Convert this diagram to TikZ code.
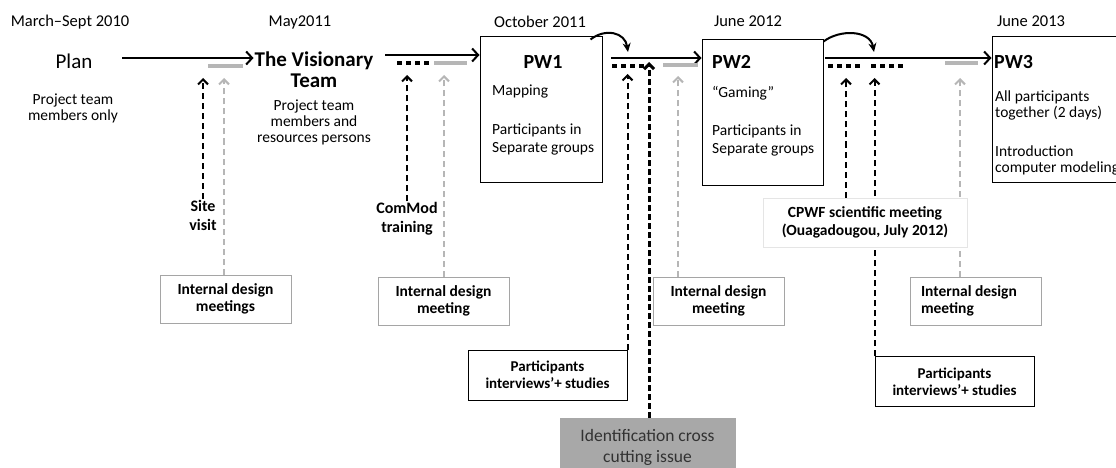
\documentclass[tikz,border=0pt]{standalone}
\usepackage{fontspec}
\setmainfont{Carlito}
\usetikzlibrary{arrows.meta,calc}

\definecolor{linegray}{RGB}{182,182,182}
\definecolor{boxgray}{RGB}{165,165,165}
\definecolor{fillgray}{RGB}{168,168,168}
\definecolor{textgray}{RGB}{50,50,50}

\begin{document}
\begin{tikzpicture}[x=1pt, y=-1pt,
    datelbl/.style={font=\fontsize{16.5}{18}\selectfont},
    bigtxt/.style={font=\fontsize{21}{21}\selectfont, align=center, inner sep=1pt},
    smalltxt/.style={font=\fontsize{15.5}{16}\selectfont, align=center},
    pwbox/.style={draw, line width=1pt, minimum width=#1, minimum height=145pt, inner sep=0pt},
    pwtitle/.style={font=\bfseries\fontsize{20}{20}\selectfont, inner sep=0pt},
    pwtxt/.style={font=\fontsize{15.5}{18}\selectfont, align=left, anchor=west, inner sep=0pt},
    actlbl/.style={font=\bfseries\fontsize{16}{19}\selectfont, align=center, inner sep=1pt},
    idmbox/.style={draw=boxgray, line width=1pt, fill=white, font=\bfseries\fontsize{15.5}{17}\selectfont,
        align=center, minimum width=131pt, minimum height=48pt, inner sep=0pt},
    partbox/.style={draw, line width=1pt, fill=white, font=\bfseries\fontsize{15}{17}\selectfont,
        align=center, minimum width=159pt, minimum height=50pt, inner sep=0pt},
    cpwfbox/.style={draw=black!10, line width=1pt, fill=white, font=\bfseries\fontsize{15.5}{18}\selectfont,
        align=center, minimum width=204pt, minimum height=49pt, inner sep=0pt},
    identbox/.style={draw=fillgray, fill=fillgray, text=textgray, font=\fontsize{17.5}{21}\selectfont,
        align=center, minimum width=175pt, minimum height=58pt, inner sep=0pt},
    timeline/.style={line width=2pt, -{Straight Barb[length=6pt, width=13pt]}},
    curvearr/.style={line width=2pt, -{Stealth[length=9pt, width=8pt]}},
    blkdash/.style={line width=2pt, dash pattern=on 6pt off 4pt, -{Straight Barb[length=5pt, width=10pt]}},
    grydash/.style={blkdash, draw=linegray},
    thickdash/.style={line width=3pt, dash pattern=on 6pt off 3pt, -{Straight Barb[length=5pt, width=10pt]}},
    dotrow/.style={line width=4pt, dash pattern=on 5pt off 4pt},
    graybar/.style={line width=4.5pt, draw=linegray}]

    \path[use as bounding box, clip] (0,0) rectangle (1116,468);

    % Dates
    \node[datelbl] (d1) at (70,22) {March--Sept 2010};
    \node[datelbl] (d2) at (300,22) {May2011};
    \node[datelbl] (d3) at (540,22) {October 2011};
    \node[datelbl] (d4) at (748,21) {June 2012};
    \node[datelbl] (d5) at (1031,21) {June 2013};

    % Stages
    \node[bigtxt] (plan) at (74,61) {Plan};
    \node[smalltxt] (planwho) at (73,108) {Project team\\members only};
    \node[bigtxt, font=\bfseries\fontsize{21}{21}\selectfont] (vis) at (314,70) {The Visionary\\Team};
    \node[smalltxt] (viswho) at (314,122) {Project team\\members and\\resources persons};

    % Participatory workshops
    \node[pwbox=122pt] (pw1) at (541,109.5) {};
    \node[pwtitle] (pw1t) at (543,62) {PW1};
    \node[pwtxt] (pw1a) at (492,92) {Mapping};
    \node[pwtxt] (pw1b) at (492,139) {Participants in\\Separate groups};

    \node[pwbox=121pt] (pw2) at (762.5,112.5) {};
    \node[pwtitle, anchor=west] (pw2t) at (712,62) {PW2};
    \node[pwtxt] (pw2a) at (712,93) {``Gaming''};
    \node[pwtxt] (pw2b) at (712,140) {Participants in\\Separate groups};

    \node[pwbox=140pt] (pw3) at (1062,109.5) {};
    \node[pwtitle, anchor=west] (pw3t) at (994,62) {PW3};
    \node[pwtxt, font=\fontsize{15.5}{16}\selectfont] (pw3a) at (995,105) {All participants\\together (2 days)};
    \node[pwtxt, font=\fontsize{15.5}{16}\selectfont] (pw3b) at (995,160) {Introduction\\computer modeling};

    % Timeline
    \coordinate (s1) at (122,58);
    \coordinate (s2) at (385,55);
    \coordinate (s3) at (611,58);
    \coordinate (s4) at (825,58);
    \draw[timeline] (s1) -- (s1 -| vis.west);
    \draw[timeline] (s2) -- (s2 -| pw1.west);
    \draw[timeline] (s3) -- (s3 -| pw2.west);
    \draw[timeline] (s4) -- (s4 -| pw3.west);

    \coordinate (e1) at (628,52);
    \coordinate (e2) at (874,52);
    \draw[curvearr] ($(pw1.north east)+(-12,3)$) .. controls (605,28) and (625,32) .. (e1);
    \draw[curvearr] ($(pw2.north east)+(0,2)$) .. controls (840,29) and (870,30) .. (e2);

    % Periods between stages
    \draw[graybar] (208,66) -- (243,66);
    \draw[graybar] (434,63) -- (467,63);
    \draw[graybar] (663,65) -- (698,65);
    \draw[graybar] (945,63) -- (978,63);
    \draw[dotrow] (397,63) -- (430,63);
    \draw[dotrow] (612,66) -- (645,66);
    \draw[dotrow] (828,66) -- (861,66);
    \draw[dotrow] (871,66) -- (904,66);

    % Activities
    \coordinate (t1) at (203,78);
    \coordinate (g1) at (224,78);
    \coordinate (t2) at (407,75);
    \coordinate (g2) at (444,75);
    \coordinate (t3) at (627,74);
    \coordinate (t4) at (649,62);
    \coordinate (g3) at (678,76);
    \coordinate (t5) at (846,78);
    \coordinate (t6) at (875,78);
    \coordinate (g4) at (960,78);

    \node[actlbl] (site) at (203,215) {Site\\visit};
    \node[actlbl] (commod) at (407,219) {ComMod\\training};
    \draw[blkdash] (site.north) -- (site.north |- t1);
    \draw[blkdash] (commod.north) -- (commod.north |- t2);

    \node[idmbox] (idm1) at (225.5,299) {Internal design\\meetings};
    \node[idmbox] (idm2) at (443.5,301) {Internal design\\meeting};
    \node[idmbox] (idm3) at (718.5,301) {Internal design\\meeting};
    \node[idmbox, align=flush left, text width=109pt, inner xsep=11pt] (idm4) at (975.5,301) {Internal design\\meeting};
    \draw[grydash] (idm1.north -| g1) -- (g1);
    \draw[grydash] (idm2.north -| g2) -- (g2);
    \draw[grydash] (idm3.north -| g3) -- (g3);
    \draw[grydash] (idm4.north -| g4) -- (g4);

    \node[partbox] (part1) at (547.5,375) {Participants\\interviews'+ studies};
    \node[partbox] (part2) at (954.5,381.5) {Participants\\interviews'+ studies};
    \node[identbox] (ident) at (647.5,447) {Identification cross\\cutting issue};
    \draw[blkdash] (part1.north east) -- (part1.north east |- t3);
    \draw[thickdash] (ident.north -| t4) -- (t4);
    \draw[blkdash] (part2.north west) -- (part2.north west |- t6);

    \node[cpwfbox] (cpwf) at (865,222.5) {CPWF scientific meeting\\(Ouagadougou, July 2012)};
    \draw[blkdash] (cpwf.north -| t5) -- (t5);
\end{tikzpicture}
\end{document}
